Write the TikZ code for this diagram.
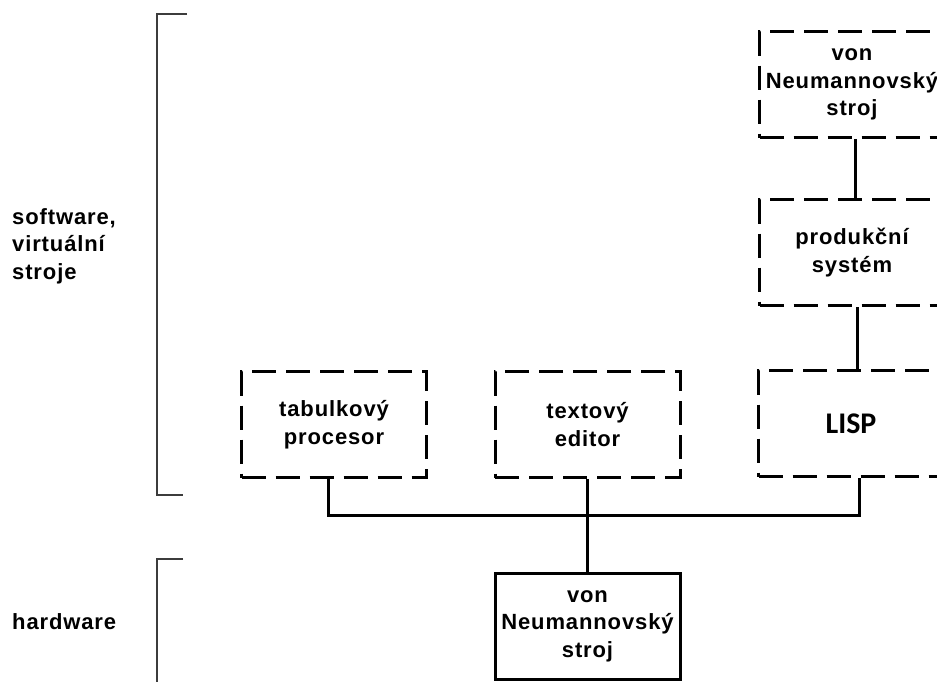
\documentclass[tikz,border=0pt]{standalone}
\usepackage{fontspec}
\setmainfont{Liberation Sans}[LetterSpace=4]
\newfontfamily\lispfont{Carlito}
\definecolor{bracketgray}{RGB}{60,60,60}
\begin{document}
\begin{tikzpicture}[x=1pt,y=-1pt,
  txt/.style={font=\bfseries\fontsize{22}{27.5}\selectfont, align=center},
  vmbox/.style={draw, line width=3pt, minimum width=185pt, minimum height=106pt,
    inner sep=0pt, txt},
  vbox/.style={vmbox, dash pattern=on 24pt off 10pt},
  wire/.style={line width=3pt},
  bracket/.style={draw=bracketgray, line width=2pt},
  lbl/.style={font=\bfseries\fontsize{22}{27.5}\selectfont, align=left, anchor=west, inner sep=0pt}]
\useasboundingbox (0,0) rectangle (937,681);
\clip (0,0) rectangle (937,681);

% virtual machines (dashed)
\node[vbox] (vn2)  at (852,84.5) {von\\Neumannovský\\stroj};
\node[vbox] (prod) at (852,252.5) {produkční\\systém};
\node[vbox, font=\lispfont\bfseries\fontsize{30}{34}\selectfont] (lisp) at (851,423.5) {LISP};
\node[vbox] (tab)  at (334,424.5) {tabulkový\\procesor};
\node[vbox] (ted)  at (587.5,424.5) {textový\\editor};

% hardware (solid)
\node[vmbox] (hw) at (587.5,626) {von\\Neumannovský\\stroj};

% connectors
\coordinate (bus) at (587.5,515);
\draw[wire] ([xshift=3pt]vn2.south) -- ([xshift=3pt]prod.north);
\draw[wire] ([xshift=5pt]prod.south) -- ([xshift=6pt]lisp.north);
\draw[wire] ([xshift=-6pt]tab.south) |- (bus) -| ([xshift=8pt]lisp.south);
\draw[wire] (ted.south) -- (hw.north);

% side brackets and labels
\draw[bracket] (187,14) -- (157,14) -- (157,495) -- (183,495);
\draw[bracket] (183,559) -- (157,559) -- (157,690);
\node[lbl] (sw) at (12,246) {software,\\virtuální\\stroje};
\node[lbl] (hwl) at (12,622) {hardware};
\end{tikzpicture}
\end{document}
